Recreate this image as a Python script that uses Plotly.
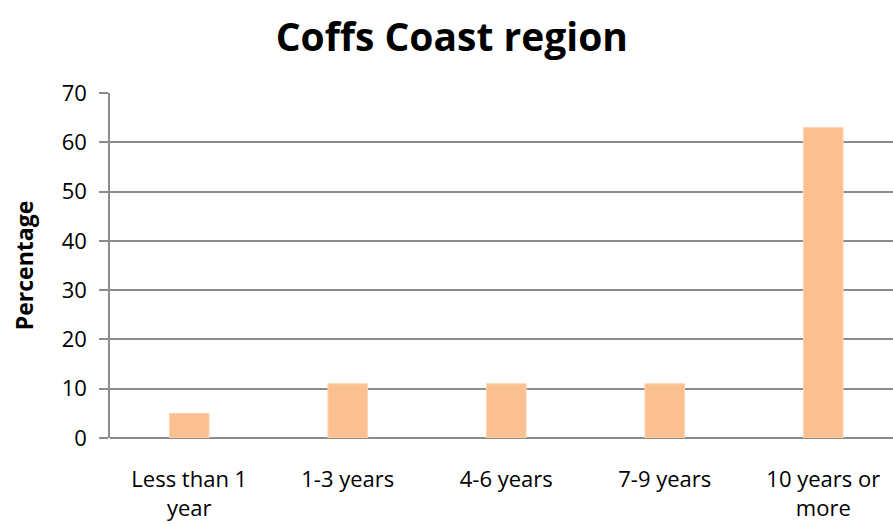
import plotly.graph_objects as go

categories = ["Less than 1<br>year", "1-3 years", "4-6 years", "7-9 years", "10 years or<br>more"]
percentages = [5, 11, 11, 11, 63]
y_ticks = [0, 10, 20, 30, 40, 50, 60, 70]

FONT = "Open Sans, Liberation Sans, sans-serif"
GRID = "#8c8c8c"

fig = go.Figure(
    go.Bar(
        x=list(range(len(categories))),
        y=percentages,
        marker=dict(color="#FAC090", line=dict(color="#FCD5B4", width=1)),
        width=0.25,
    )
)

fig.update_layout(
    width=893,
    height=524,
    margin=dict(l=110, r=0, t=93, b=86),
    paper_bgcolor="white",
    plot_bgcolor="white",
    showlegend=False,
    title=dict(
        text="<b>Coffs Coast region</b>",
        x=0.506,
        xanchor="center",
        y=1 - 37 / 524,
        yanchor="middle",
        font=dict(family=FONT, size=39, color="black"),
    ),
    font=dict(family=FONT, color="black"),
)

fig.update_xaxes(
    range=[-0.5, 4.44],
    tickmode="array",
    tickvals=list(range(len(categories))),
    ticktext=categories,
    tickfont=dict(size=22, color="black"),
    showgrid=False,
    showline=False,
    zeroline=False,
    ticks="",
    ticklabelstandoff=26,
)

fig.update_yaxes(
    range=[0, 70],
    tickmode="array",
    tickvals=y_ticks,
    tickfont=dict(size=22, color="black"),
    showgrid=True,
    gridcolor=GRID,
    gridwidth=1.5,
    showline=True,
    linecolor=GRID,
    linewidth=1.5,
    ticks="outside",
    ticklen=9,
    tickcolor=GRID,
    tickwidth=1.5,
    ticklabelstandoff=8,
    zeroline=True,
    zerolinecolor=GRID,
    zerolinewidth=1.5,
    title=dict(text="<b>Percentage</b>", font=dict(family=FONT, size=23, color="black"), standoff=22),
)

fig.write_html("out.html")
